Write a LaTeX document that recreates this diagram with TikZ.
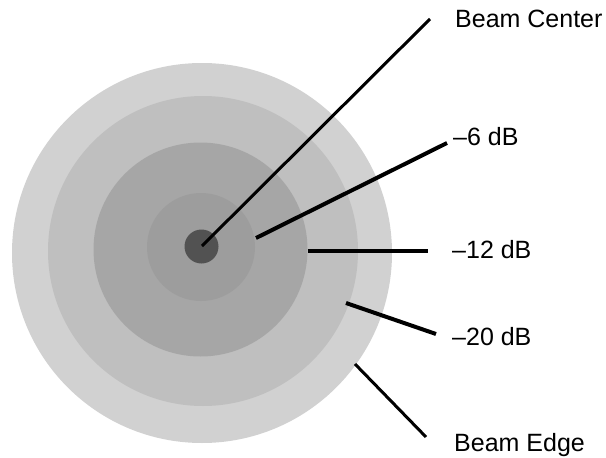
\documentclass[tikz,border=0pt]{standalone}
\usepackage{fontspec}
\setmainfont{Liberation Sans}
\usetikzlibrary{positioning}

\begin{document}
\begin{tikzpicture}[
        x=1pt, y=-1pt,
        font=\fontsize{25}{29}\selectfont,
        leader/.style={
            line width=3pt,
            black
        },
        heavyleader/.style={
            line width=4pt,
            black
        },
        tag/.style={
            anchor=base west,
            inner sep=0pt
        }
    ]

    \useasboundingbox (0,0) rectangle (606,458);

    % beam footprint, outer to inner
    \fill[gray!36] (202,253) circle (190);
    \fill[gray!50] (203,251) circle (155);
    \fill[gray!70] (200.5,249.5) circle (107);
    \fill[gray!77] (201,247) circle (54);
    \fill[gray!40!black!85] (201.5,246.5) circle (17);

    % labels
    \node[tag] (center) at (455,27) {Beam Center};
    \node[tag] (six) at (453,145) {--6 dB};
    \node[tag] (twelve) at (452,258) {--12 dB};
    \node[tag] (twenty) at (452,345) {--20 dB};
    \node[tag] (edge) at (454,451) {Beam Edge};

    % leader ends
    \coordinate (pcenter) at (202,246);
    \coordinate (psix) at (256,238);
    \coordinate (ptwelve) at (308,250.5);
    \coordinate (ptwenty) at (346,303);
    \coordinate (pedge) at (355,364);

    \coordinate (ecenter) at (430,19);
    \coordinate (esix) at (447,143);
    \coordinate (etwelve) at (428,250.5);
    \coordinate (etwenty) at (436,334);
    \coordinate (eedge) at (426,437);

    \draw[leader] (pcenter) -- (ecenter);
    \draw[heavyleader] (psix) -- (esix);
    \draw[heavyleader] (ptwelve) -- (etwelve);
    \draw[heavyleader] (ptwenty) -- (etwenty);
    \draw[leader] (pedge) -- (eedge);

    \end{tikzpicture}
\end{document}
